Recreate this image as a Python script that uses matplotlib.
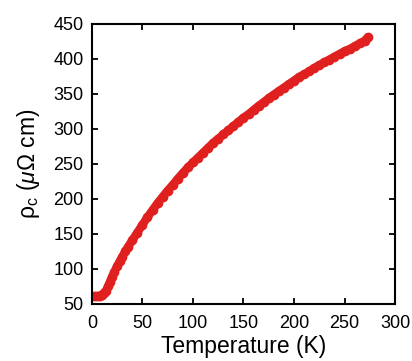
import numpy as np
import matplotlib.pyplot as plt

plt.rcParams['font.family'] = ['Liberation Sans', 'DejaVu Sans']
plt.rcParams['mathtext.fontset'] = 'custom'
plt.rcParams['mathtext.rm'] = 'Liberation Sans'
plt.rcParams['mathtext.it'] = 'Liberation Sans:italic'

# temperature (K) and rho_c (micro-ohm cm)
temp = [2, 4, 6, 8, 10, 12, 14, 16, 18, 20, 22, 25, 28, 30, 33, 36, 40, 45, 50,
        55, 60, 65, 70, 75, 80, 85, 90, 95, 100, 105, 110, 115, 120, 125, 130,
        135, 140, 145, 150, 155, 160, 165, 170, 175, 180, 185, 190, 195, 200,
        205, 210, 215, 220, 225, 230, 235, 240, 245, 250, 255, 260, 265, 270, 273]
rho = [61, 61, 61, 62, 63, 66, 69, 75, 82, 89, 95, 104, 112, 117, 125, 132, 141,
       152, 163, 174, 184, 194, 203, 212, 220, 229, 237, 245, 252, 259, 266, 273,
       280, 286, 292, 298, 304, 310, 316, 321, 327, 333, 338, 344, 349, 354, 359,
       364, 369, 374, 378, 382, 387, 391, 395, 399, 403, 407, 411, 414, 418, 422,
       426, 431]

fig = plt.figure(figsize=(4.12, 3.61), dpi=100)
ax = fig.add_axes([0.223, 0.158, 0.736, 0.776])

ax.plot(temp, rho, '-o', color='#e0201e', lw=6, markersize=7,
        markeredgewidth=0, solid_capstyle='round', solid_joinstyle='round')

ax.set_xlim(0, 300)
ax.set_ylim(50, 450)
ax.set_xticks(np.arange(0, 301, 50))
ax.set_yticks(np.arange(50, 451, 50))
ax.tick_params(direction='in', top=True, right=True, length=4, width=1.3,
               labelsize=13)
ax.tick_params(axis='x', pad=8)
ax.tick_params(axis='y', pad=6)
for s in ax.spines.values():
    s.set_linewidth(1.5)

ax.set_xlabel('Temperature (K)', fontsize=16.5, labelpad=2)
ax.set_ylabel(r'$\mathrm{\rho_c}$ ($\mu\Omega$ cm)', fontsize=16.5, labelpad=8)

fig.savefig('out.png', dpi=100)
